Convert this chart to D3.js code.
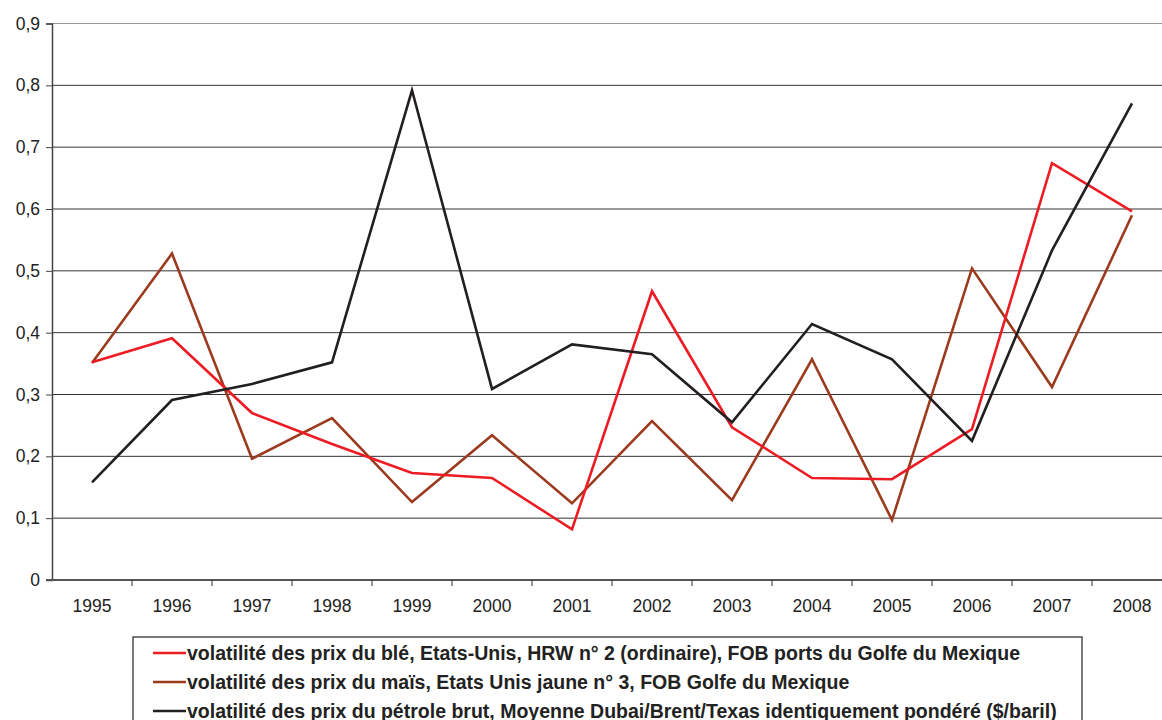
<!DOCTYPE html>
<html>
<head>
<meta charset="utf-8">
<script src="https://cdn.jsdelivr.net/npm/d3@7"></script>
<style>
  body { margin: 0; background: #fff; }
  svg { display: block; font-family: "Liberation Sans", Arial, sans-serif; }
</style>
</head>
<body>
<svg id="chart" width="1162" height="720"></svg>
<script>
// données
var years = ["1995","1996","1997","1998","1999","2000","2001","2002","2003","2004","2005","2006","2007","2008"];
var ble = [0.352,0.391,0.270,0.220,0.173,0.165,0.082,0.467,0.247,0.165,0.163,0.244,0.674,0.596];
var mais = [0.351,0.528,0.196,0.262,0.126,0.234,0.124,0.257,0.129,0.357,0.097,0.504,0.312,0.590];
var petrole = [0.158,0.291,0.317,0.352,0.792,0.309,0.381,0.365,0.255,0.414,0.357,0.225,0.533,0.771];
var yTicks = [0,0.1,0.2,0.3,0.4,0.5,0.6,0.7,0.8,0.9];

var series = [
  { name: "volatilité des prix du blé, Etats-Unis, HRW n° 2 (ordinaire), FOB ports du Golfe du Mexique", values: ble, color: "#ed1c24" },
  { name: "volatilité des prix du maïs, Etats Unis jaune n° 3, FOB Golfe du Mexique", values: mais, color: "#9c3a1e" },
  { name: "volatilité des prix du pétrole brut, Moyenne Dubai/Brent/Texas identiquement pondéré ($/baril)", values: petrole, color: "#231f20" }
];

var svg = d3.select("#chart");
var mLeft = 52, mRight = 1172, mTop = 23.5, mBottom = 580;

var x = d3.scaleBand().domain(years).range([mLeft, mRight]);
var y = d3.scaleLinear().domain([0, 0.9]).range([mBottom, mTop]);
var fmt = function(d) { return d === 0 ? "0" : d3.format(".1f")(d).replace(".", ","); };

// grille
svg.append("g").selectAll("line")
  .data(yTicks.filter(function(d) { return d > 0; }))
  .enter().append("line")
    .attr("x1", mLeft).attr("x2", mRight)
    .attr("y1", function(d) { return y(d); })
    .attr("y2", function(d) { return y(d); })
    .attr("stroke", function(d) { return d === 0.9 ? "#999" : "#333"; })
    .attr("stroke-width", 1);

// axe y
var yAxis = svg.append("g")
  .attr("transform", "translate(" + mLeft + ",0)")
  .call(d3.axisLeft(y).tickValues(yTicks).tickFormat(fmt).tickSize(6).tickPadding(6));
yAxis.select(".domain").attr("stroke", "#444").attr("stroke-width", 1.5);
yAxis.selectAll(".tick line").attr("stroke", "#444");
yAxis.selectAll("text").attr("font-size", 17.5).attr("fill", "#222")
  .attr("font-family", "Liberation Sans, Arial, sans-serif");

// axe x
var xAxis = svg.append("g")
  .attr("transform", "translate(0," + mBottom + ")")
  .call(d3.axisBottom(x).tickSize(0).tickPadding(20));
xAxis.select(".domain").remove();
xAxis.selectAll("text").attr("font-size", 17.5).attr("fill", "#222")
  .attr("font-family", "Liberation Sans, Arial, sans-serif");
xAxis.append("line").attr("x1", mLeft - 6).attr("x2", mRight).attr("y1", 0).attr("y2", 0)
  .attr("stroke", "#555").attr("stroke-width", 2);
xAxis.selectAll(".sep")
  .data(years.slice(1))
  .enter().append("line")
    .attr("x1", function(d) { return x(d); }).attr("x2", function(d) { return x(d); })
    .attr("y1", 0).attr("y2", 6)
    .attr("stroke", "#333");

// courbes
var line = d3.line()
  .x(function(d, i) { return x(years[i]) + x.bandwidth() / 2; })
  .y(function(d) { return y(d); });

svg.append("g").selectAll("path")
  .data([series[1], series[0], series[2]])
  .enter().append("path")
    .attr("d", function(s) { return line(s.values); })
    .attr("fill", "none")
    .attr("stroke", function(s) { return s.color; })
    .attr("stroke-width", 2.6)
    .attr("stroke-linejoin", "miter");

// légende
var leg = svg.append("g");
leg.append("rect")
  .attr("x", 133).attr("y", 637).attr("width", 949).attr("height", 100)
  .attr("fill", "#fff").attr("stroke", "#333").attr("stroke-width", 1.3);

var item = leg.selectAll(".item")
  .data(series)
  .enter().append("g")
    .attr("transform", function(d, i) { return "translate(153," + (653 + i * 29) + ")"; });
item.append("line")
  .attr("x1", 0).attr("x2", 33).attr("y1", 0).attr("y2", 0)
  .attr("stroke", function(d) { return d.color; })
  .attr("stroke-width", 2.6);
item.append("text")
  .attr("x", 34).attr("y", 0).attr("dy", "0.35em")
  .attr("font-size", 19.5).attr("font-weight", "bold").attr("fill", "#222")
  .text(function(d) { return d.name; });
</script>
</body>
</html>
